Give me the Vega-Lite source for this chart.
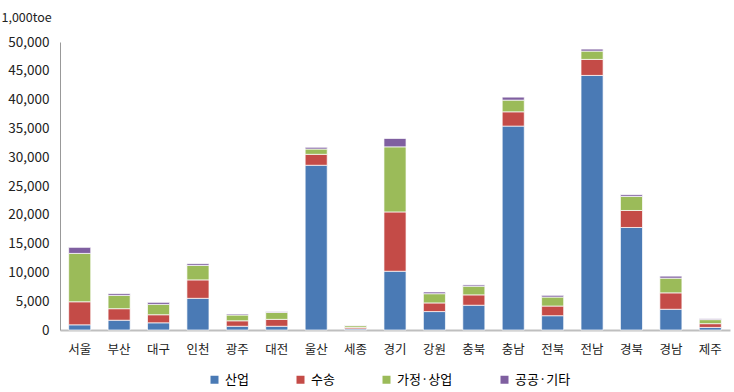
{
  "$schema": "https://vega.github.io/schema/vega-lite/v6.json",
  "width": 670,
  "height": 288,
  "autosize": "none",
  "padding": {"left": 60, "top": 42, "right": 4, "bottom": 62},
  "background": "white",
  "config": {
    "view": {"stroke": null},
    "font": "Noto Sans CJK KR",
    "axis": {"labelFont": "Noto Sans CJK KR", "titleFont": "Noto Sans CJK KR", "labelColor": "#222", "titleColor": "#222"},
    "legend": {"labelFont": "Noto Sans CJK KR"}
  },
  "data": {
    "values": [
      {"r": "서울", "산업": 900, "수송": 4000, "가정·상업": 8400, "공공·기타": 1050},
      {"r": "부산", "산업": 1700, "수송": 2000, "가정·상업": 2300, "공공·기타": 300},
      {"r": "대구", "산업": 1250, "수송": 1400, "가정·상업": 1800, "공공·기타": 350},
      {"r": "인천", "산업": 5500, "수송": 3200, "가정·상업": 2500, "공공·기타": 300},
      {"r": "광주", "산업": 650, "수송": 950, "가정·상업": 1000, "공공·기타": 180},
      {"r": "대전", "산업": 650, "수송": 1200, "가정·상업": 1200, "공공·기타": 130},
      {"r": "울산", "산업": 28600, "수송": 1900, "가정·상업": 920, "공공·기타": 300},
      {"r": "세종", "산업": 200, "수송": 250, "가정·상업": 300, "공공·기타": 60},
      {"r": "경기", "산업": 10200, "수송": 10300, "가정·상업": 11300, "공공·기타": 1450},
      {"r": "강원", "산업": 3200, "수송": 1500, "가정·상업": 1600, "공공·기타": 300},
      {"r": "충북", "산업": 4300, "수송": 1800, "가정·상업": 1500, "공공·기타": 230},
      {"r": "충남", "산업": 35400, "수송": 2480, "가정·상업": 2030, "공공·기타": 520},
      {"r": "전북", "산업": 2480, "수송": 1680, "가정·상업": 1560, "공공·기타": 300},
      {"r": "전남", "산업": 44200, "수송": 2780, "가정·상업": 1440, "공공·기타": 350},
      {"r": "경북", "산업": 17800, "수송": 2950, "가정·상업": 2430, "공공·기타": 300},
      {"r": "경남", "산업": 3600, "수송": 2850, "가정·상업": 2550, "공공·기타": 350},
      {"r": "제주", "산업": 450, "수송": 650, "가정·상업": 700, "공공·기타": 150}
    ]
  },
  "transform": [
    {"fold": ["산업", "수송", "가정·상업", "공공·기타"], "as": ["type", "value"]},
    {"calculate": "indexof(['산업','수송','가정·상업','공공·기타'], datum.type)", "as": "ord"}
  ],
  "mark": {"type": "bar", "stroke": "#ffffff", "strokeOpacity": 0.7, "strokeWidth": 1},
  "encoding": {
    "x": {
      "field": "r", "type": "nominal", "sort": null,
      "scale": {"paddingInner": 0.44, "paddingOuter": 0.22},
      "axis": {"title": null, "labelAngle": 0, "ticks": false, "domainColor": "#bfbfbf", "domainWidth": 2, "labelFontSize": 12.5, "labelPadding": 13}
    },
    "y": {
      "field": "value", "type": "quantitative", "stack": "zero",
      "scale": {"domain": [0, 50000], "nice": false},
      "axis": {
        "values": [0, 5000, 10000, 15000, 20000, 25000, 30000, 35000, 40000, 45000, 50000],
        "format": ",d", "grid": false, "ticks": false, "domainColor": "#999", "domainWidth": 1,
        "labelFontSize": 13.5, "labelPadding": 11,
        "title": "1,000toe", "titleAngle": 0, "titleAlign": "left", "titleBaseline": "middle",
        "titleX": -59, "titleY": -25, "titleFontSize": 12.5, "titleFontWeight": "normal"
      }
    },
    "color": {
      "field": "type", "type": "nominal",
      "scale": {"domain": ["산업", "수송", "가정·상업", "공공·기타"], "range": ["#4A7AB5", "#C44B47", "#9BBB59", "#7F5FA0"]},
      "legend": {
        "title": null, "orient": "none", "direction": "horizontal", "legendX": 148, "legendY": 331,
        "symbolType": "square", "symbolSize": 64, "symbolStrokeWidth": 0, "labelFontSize": 13, "columnPadding": 45, "labelOffset": 4
      }
    },
    "order": {"field": "ord", "type": "quantitative", "sort": "ascending"}
  }
}
